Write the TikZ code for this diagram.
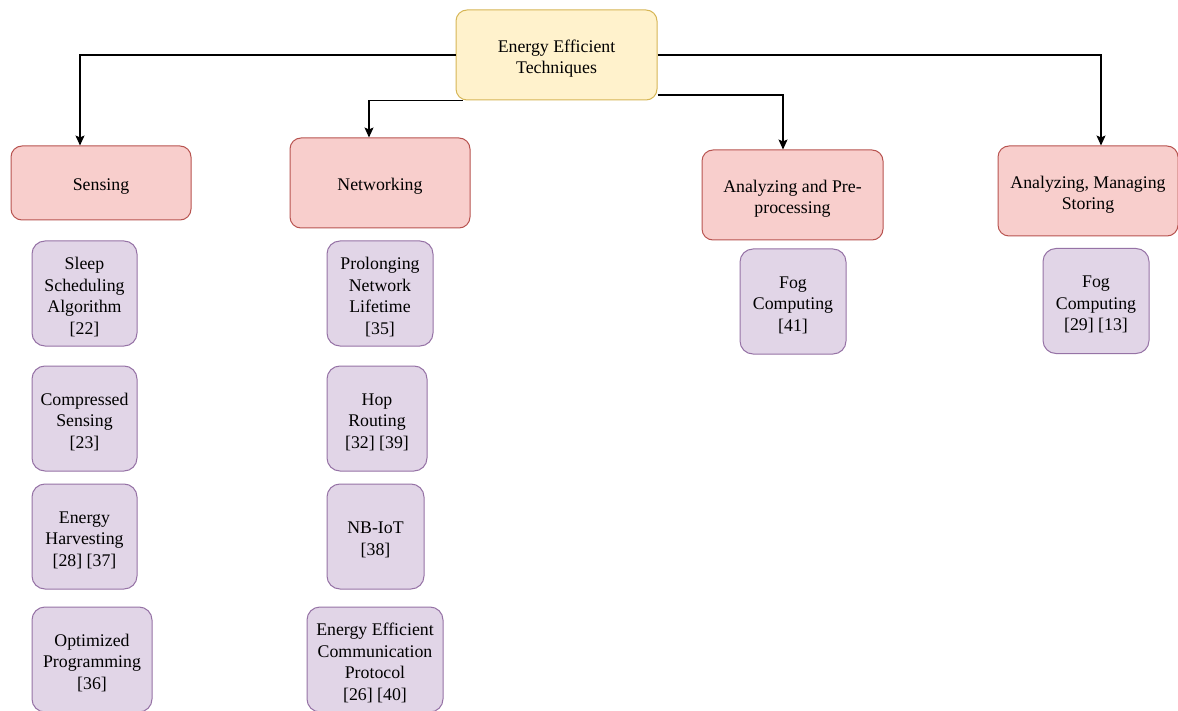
\documentclass[tikz,border=0pt]{standalone}
\usepackage{fontspec}
\setmainfont{Liberation Serif}
\usetikzlibrary{arrows.meta}
\definecolor{rootfill}{HTML}{FFF2CC}
\definecolor{rootline}{HTML}{D6B656}
\definecolor{catfill}{HTML}{F8CECC}
\definecolor{catline}{HTML}{B85450}
\definecolor{itemfill}{HTML}{E1D5E7}
\definecolor{itemline}{HTML}{9673A6}
\tikzset{
  base/.style={rounded corners=11pt, line width=1pt, inner sep=0pt},
  txt/.style={align=center, inner sep=0pt, font=\fontsize{17.8}{21.4}\selectfont},
  rootbox/.style={base, draw=rootline, fill=rootfill, minimum width=201pt, minimum height=90pt},
  catbox/.style={base, draw=catline, fill=catfill, minimum width=180pt},
  itembox/.style={base, rounded corners=13pt, draw=itemline, fill=itemfill, minimum height=105pt},
  arr/.style={line width=1.2pt, -{Stealth[length=10pt, width=9pt, inset=2pt]}}
}
% a box with its label set slightly below the box centre
\newcommand\labelledbox[5]{%
  \node[#1,#2] (#3) at (#4) {};
  \node[txt] (#3-text) at ([yshift=-3.5pt]#3.center) {#5};}
\begin{document}
\begin{tikzpicture}[x=1pt, y=-1pt]
\useasboundingbox (0,0) rectangle (1178,711);
\clip (0,0) rectangle (1178,711);
\fill[white] (0,0) rectangle (1178,711);

% root
\labelledbox{rootbox}{}{root}{556.5,55}{Energy Efficient\\Techniques}

% categories
\labelledbox{catbox}{minimum height=74pt}{sens}{101,183}{Sensing}
\labelledbox{catbox}{minimum height=90pt}{net}{380,183}{Networking}
\labelledbox{catbox}{minimum width=181pt, minimum height=90pt}{anp}{792.5,195}{Analyzing and Pre-\\processing}
\labelledbox{catbox}{minimum height=90pt}{ams}{1088,191}{Analyzing, Managing\\Storing}

% sensing techniques
\labelledbox{itembox}{minimum width=105pt}{s1}{84.5,293.5}{Sleep\\Scheduling\\Algorithm\\{[22]}}
\labelledbox{itembox}{minimum width=105pt}{s2}{84.5,418.5}{Compressed\\Sensing\\{[23]}}
\labelledbox{itembox}{minimum width=105pt}{s3}{84.5,536.5}{Energy\\Harvesting\\{[28] [37]}}
\labelledbox{itembox}{minimum width=120pt}{s4}{92,659.5}{Optimized\\Programming\\{[36]}}

% networking techniques
\labelledbox{itembox}{minimum width=106pt}{n1}{380,293.5}{Prolonging\\Network\\Lifetime\\{[35]}}
\labelledbox{itembox}{minimum width=100pt}{n2}{377,418.5}{Hop\\Routing\\{[32] [39]}}
\labelledbox{itembox}{minimum width=97pt}{n3}{375.5,536.5}{NB-IoT\\{[38]}}
\labelledbox{itembox}{minimum width=136pt}{n4}{375,659.5}{Energy Efficient\\Communication\\Protocol\\{[26] [40]}}

% analysis techniques
\labelledbox{itembox}{minimum width=106pt}{a1}{793,301.5}{Fog\\Computing\\{[41]}}
\labelledbox{itembox}{minimum width=106pt}{m1}{1096,301}{Fog\\Computing\\{[29] [13]}}

% connectors
\coordinate (rootbl) at ([xshift=7pt]root.south west);
\coordinate (rootbr) at ([yshift=-40pt]root.east);
\draw[arr] (root.west) -| ([xshift=-21pt]sens.north);
\draw[arr] (rootbl) -| ([xshift=-11pt]net.north);
\draw[arr] (rootbr) -| ([xshift=-9.5pt]anp.north);
\draw[arr] (root.east) -| ([xshift=13pt]ams.north);
\end{tikzpicture}
\end{document}
